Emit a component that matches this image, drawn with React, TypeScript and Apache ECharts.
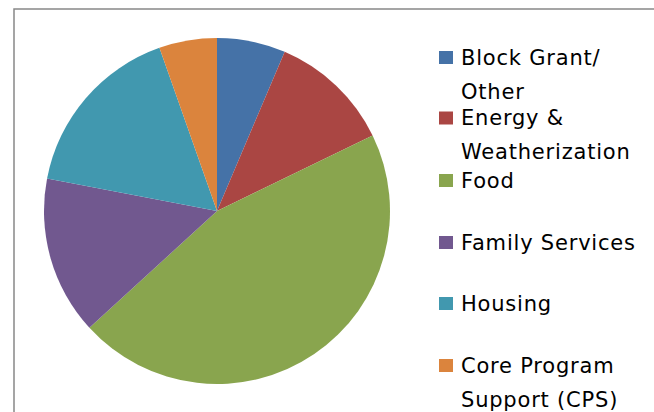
import React, { useEffect, useRef } from "react";
import * as echarts from "echarts";

const categories = [
  "Block Grant/ Other",
  "Energy & Weatherization",
  "Food",
  "Family Services",
  "Housing",
  "Core Program Support (CPS)",
];
const legendLabels = [
  "Block Grant/\nOther",
  "Energy &\nWeatherization",
  "Food",
  "Family Services",
  "Housing",
  "Core Program\nSupport (CPS)",
];
const values = [6.4, 11.4, 45.4, 14.8, 16.6, 5.4];
const colors = ["#4572A7", "#AA4643", "#89A54E", "#71588F", "#4198AF", "#DB843D"];
const legendCenters = [57.5, 118, 180.5, 242.5, 303.5, 365.5];

export default function App() {
  const ref = useRef<HTMLDivElement>(null);
  useEffect(() => {
    if (!ref.current) return;
    const chart = echarts.init(ref.current, null, { renderer: "svg" });
    const lineH = 34;
    const legends = categories.map((name, i) => {
      const multi = legendLabels[i].includes("\n");
      const blockH = multi ? lineH * 3 : lineH;
      return {
        data: [name],
        orient: "vertical",
        left: 439,
        top: legendCenters[i] - blockH / 2,
        padding: 0,
        itemWidth: 14,
        itemHeight: 13,
        icon: "rect",
        selectedMode: false,
        formatter: () => (multi ? "\n" + legendLabels[i] : legendLabels[i]),
        textStyle: {
          fontFamily: "DejaVu Sans",
          fontSize: 21,
          color: "#000",
          lineHeight: lineH,
          padding: [0, 0, 0, 3],
        },
      };
    });
    chart.setOption({
      animation: false,
      color: colors,
      legend: legends,
      graphic: [
        {
          type: "rect",
          shape: { x: 14, y: 9, width: 800, height: 600 },
          style: { fill: "none", stroke: "#888888", lineWidth: 1.5 },
          silent: true,
        },
      ],
      series: [
        {
          type: "pie",
          center: [217, 211],
          radius: 173,
          startAngle: 90,
          clockwise: true,
          label: { show: false },
          labelLine: { show: false },
          itemStyle: { borderWidth: 0 },
          emphasis: { disabled: true },
          data: categories.map((name, i) => ({ name, value: values[i] })),
        },
      ],
    });
    return () => chart.dispose();
  }, []);
  return (
    <div
      ref={ref}
      style={{
        position: "fixed",
        left: 0,
        top: 0,
        width: 654,
        height: 412,
        background: "#fff",
        letterSpacing: "0.8px",
      }}
    />
  );
}
